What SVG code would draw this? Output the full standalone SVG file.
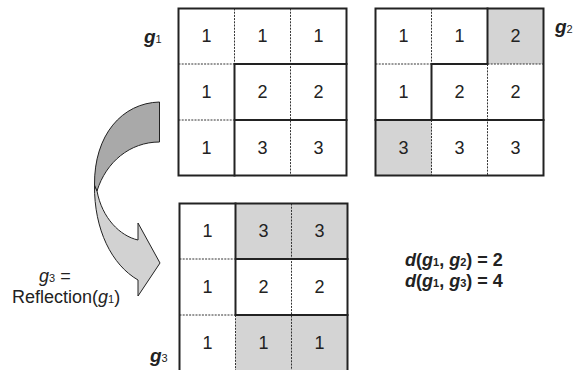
<svg xmlns="http://www.w3.org/2000/svg" width="586" height="370" viewBox="0 0 586 370">
<style>
text{font-family:"Liberation Sans",Arial,sans-serif;fill:#222}
.n{font-size:18px;text-anchor:middle}
.thick{stroke:#222;stroke-width:2;fill:none;stroke-linecap:square}
.dot{stroke:#333;stroke-width:1;fill:none;stroke-dasharray:2,1.2}
.gray{fill:#d4d4d4}
.lbl{font-size:19px;font-weight:bold;font-style:italic}
.sub{font-size:11px;font-weight:normal;font-style:normal}
.dist{font-size:18px;font-weight:bold}
</style>
<rect width="586" height="370" fill="#fff"/>

<g id="grid-g1">
<rect x="178.5" y="8.5" width="168" height="167" fill="#fff"/>
<path class="dot" d="M234.5,8.5V64 M290.5,8.5V175.5 M178.5,64H234.5 M178.5,120H234.5"/>
<path class="thick" d="M234.5,64H346.5 M234.5,120H346.5 M234.5,64V175.5"/>
<rect class="thick" x="178.5" y="8.5" width="168" height="167"/>
<text class="n" x="206.5" y="42">1</text><text class="n" x="262.5" y="42">1</text><text class="n" x="318.5" y="42">1</text>
<text class="n" x="206.5" y="98">1</text><text class="n" x="262.5" y="98">2</text><text class="n" x="318.5" y="98">2</text>
<text class="n" x="206.5" y="154">1</text><text class="n" x="262.5" y="154">3</text><text class="n" x="318.5" y="154">3</text>
</g>

<g id="grid-g2">
<rect x="375.5" y="8.5" width="168" height="167" fill="#fff"/>
<rect class="gray" x="487.5" y="8.5" width="56" height="55.5"/>
<rect class="gray" x="375.5" y="120" width="56" height="55.5"/>
<path class="dot" d="M431.5,8.5V64 M487.5,64V175.5 M431.5,120V175.5 M375.5,64H431.5 M487.5,64H543.5"/>
<path class="thick" d="M487.5,8.5V64 M431.5,64H487.5 M431.5,64V120 M375.5,120H543.5"/>
<rect class="thick" x="375.5" y="8.5" width="168" height="167"/>
<text class="n" x="403.5" y="42">1</text><text class="n" x="459.5" y="42">1</text><text class="n" x="515.5" y="42">2</text>
<text class="n" x="403.5" y="98">1</text><text class="n" x="459.5" y="98">2</text><text class="n" x="515.5" y="98">2</text>
<text class="n" x="403.5" y="154">3</text><text class="n" x="459.5" y="154">3</text><text class="n" x="515.5" y="154">3</text>
</g>

<g id="grid-g3">
<rect x="179.5" y="203.5" width="168" height="168" fill="#fff"/>
<rect class="gray" x="235.5" y="203.5" width="112" height="55.5"/>
<rect class="gray" x="235.5" y="315" width="112" height="56.5"/>
<path class="dot" d="M291.5,203.5V371.5 M235.5,315V371.5 M179.5,259H235.5 M179.5,315H235.5"/>
<path class="thick" d="M235.5,203.5V315 M235.5,259H347.5 M235.5,315H347.5"/>
<rect class="thick" x="179.5" y="203.5" width="168" height="168"/>
<text class="n" x="207.5" y="237">1</text><text class="n" x="263.5" y="237">3</text><text class="n" x="319.5" y="237">3</text>
<text class="n" x="207.5" y="293">1</text><text class="n" x="263.5" y="293">2</text><text class="n" x="319.5" y="293">2</text>
<text class="n" x="207.5" y="349">1</text><text class="n" x="263.5" y="349">1</text><text class="n" x="319.5" y="349">1</text>
</g>

<g id="connectors">
<path d="M94.5,185 C94,230 112,265 138,280 L138,296 L160,263 L138,223 L138,240 C120,236 102,218 97,191 Z" fill="#d2d2d2" stroke="#222" stroke-width="1" stroke-linejoin="round"/>
<path d="M159.5,102 C122,103 94,135 94.5,185 L97,191 C106,162 130,142 159.5,142 Z" fill="#a9a9a9" stroke="#222" stroke-width="1" stroke-linejoin="round"/>
</g>

<g id="labels">
<text class="lbl" x="144" y="43">g<tspan class="sub">1</tspan></text>
<text class="lbl" x="555" y="33">g<tspan class="sub" font-size="12">2</tspan></text>
<text class="lbl" x="150" y="362">g<tspan class="sub">3</tspan></text>
<text x="39" y="282" style="font-size:18px"><tspan font-style="italic">g</tspan><tspan font-size="11">3</tspan> =</text>
<text x="12" y="303" style="font-size:18px">Reflection(<tspan font-style="italic">g</tspan><tspan font-size="11">1</tspan>)</text>
<text class="dist" x="405" y="266"><tspan font-style="italic">d</tspan>(<tspan font-style="italic">g</tspan><tspan font-size="11">1</tspan>, <tspan font-style="italic">g</tspan><tspan font-size="11">2</tspan>) = 2</text>
<text class="dist" x="405" y="287"><tspan font-style="italic">d</tspan>(<tspan font-style="italic">g</tspan><tspan font-size="11">1</tspan>, <tspan font-style="italic">g</tspan><tspan font-size="11">3</tspan>) = 4</text>
</g>
</svg>
